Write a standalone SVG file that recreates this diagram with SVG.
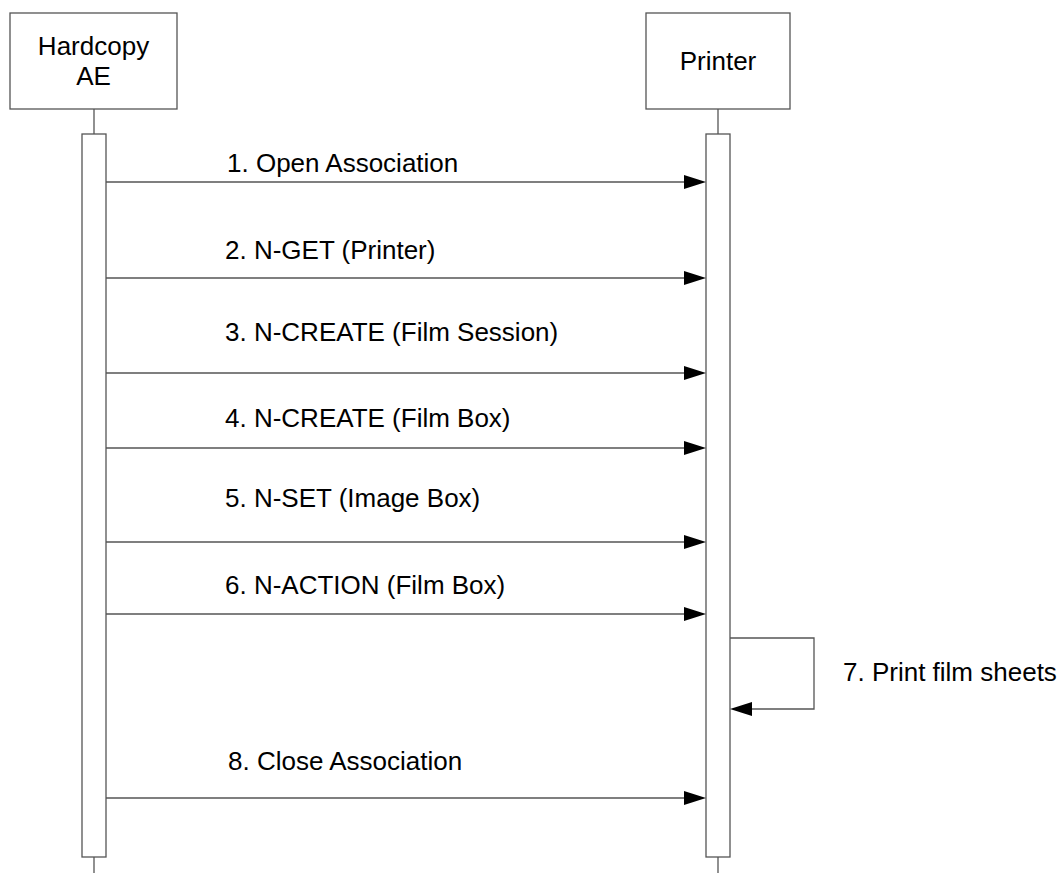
<svg xmlns="http://www.w3.org/2000/svg" width="1063" height="873" viewBox="0 0 1063 873">
<style>
.box{fill:#fff;stroke:#555;stroke-width:1.3}
.ln{fill:none;stroke:#555;stroke-width:1.3}
.head{fill:#000;stroke:none}
text{font-family:"Liberation Sans",Arial,sans-serif;font-size:26px;fill:#000}
</style>
<rect width="1063" height="873" fill="#fff"/>
<g id="lifelines">
<line class="ln" x1="94" y1="109" x2="94" y2="134"/>
<line class="ln" x1="94" y1="857" x2="94" y2="873"/>
<line class="ln" x1="718" y1="109" x2="718" y2="134"/>
<line class="ln" x1="718" y1="857" x2="718" y2="873"/>
</g>
<g id="hardcopy">
<rect class="box" x="10" y="13" width="167" height="96"/>
<text x="93.5" y="55" text-anchor="middle">Hardcopy</text>
<text x="93.5" y="85" text-anchor="middle">AE</text>
</g>
<g id="printer">
<rect class="box" x="646" y="13" width="144" height="96"/>
<text x="718" y="70" text-anchor="middle">Printer</text>
</g>
<g id="act-hardcopy">
<rect class="box" x="82" y="134" width="24" height="723"/>
</g>
<g id="act-printer">
<rect class="box" x="706" y="134" width="24" height="723"/>
</g>
<g id="connectors">
<line class="ln" x1="106" y1="182" x2="690" y2="182"/>
<polygon class="head" points="706,182 684,175 684,189"/>
<line class="ln" x1="106" y1="278" x2="690" y2="278"/>
<polygon class="head" points="706,278 684,271 684,285"/>
<line class="ln" x1="106" y1="373" x2="690" y2="373"/>
<polygon class="head" points="706,373 684,366 684,380"/>
<line class="ln" x1="106" y1="448" x2="690" y2="448"/>
<polygon class="head" points="706,448 684,441 684,455"/>
<line class="ln" x1="106" y1="542" x2="690" y2="542"/>
<polygon class="head" points="706,542 684,535 684,549"/>
<line class="ln" x1="106" y1="614" x2="690" y2="614"/>
<polygon class="head" points="706,614 684,607 684,621"/>
<polyline class="ln" points="730,638 814,638 814,709 746,709"/>
<polygon class="head" points="730,709 752,702 752,716"/>
<line class="ln" x1="106" y1="798" x2="690" y2="798"/>
<polygon class="head" points="706,798 684,791 684,805"/>
</g>
<g id="labels">
<text x="227" y="172">1. Open Association</text>
<text x="225" y="259">2. N-GET (Printer)</text>
<text x="225" y="341">3. N-CREATE (Film Session)</text>
<text x="225" y="427">4. N-CREATE (Film Box)</text>
<text x="225" y="507">5. N-SET (Image Box)</text>
<text x="225" y="594">6. N-ACTION (Film Box)</text>
<text x="843" y="681">7. Print film sheets</text>
<text x="228" y="770">8. Close Association</text>
</g>
</svg>
